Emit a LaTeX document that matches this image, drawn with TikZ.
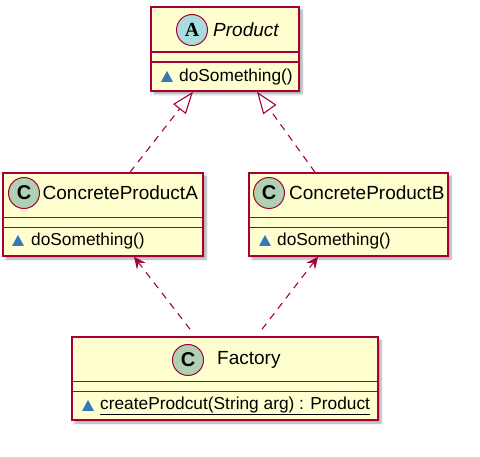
\documentclass[tikz,border=0pt]{standalone}
\usepackage{fontspec}
\setmainfont{Liberation Sans}
\newfontfamily\serifb{Liberation Serif}
\usetikzlibrary{arrows.meta,shadows.blur,calc}
\definecolor{umlfill}{HTML}{FEFECE}
\definecolor{umlborder}{HTML}{A80036}
\definecolor{classcirc}{HTML}{ADD1B2}
\definecolor{abscirc}{HTML}{A9DCDF}
\definecolor{pkgblue}{RGB}{56,120,184}
\tikzset{
  classbox/.style={draw=umlborder, fill=umlfill, line width=1.5pt, rectangle,
    inner sep=0pt,
    blur shadow={shadow xshift=3pt, shadow yshift=-3pt, shadow blur steps=6, shadow opacity=35}},
  sepline/.style={draw=umlborder, line width=1.5pt},
  circ/.style={circle, draw=umlborder, line width=1pt, minimum size=31pt, inner sep=0pt},
  ttl/.style={font=\fontsize{19}{20}\selectfont, anchor=west, inner sep=0pt},
  mem/.style={font=\fontsize{17.3}{19}\selectfont, anchor=west, inner sep=0pt},
  inh/.style={draw=umlborder, line width=1.1pt, dash pattern=on 7pt off 6pt,
    -{Triangle[open, length=22pt, width=16pt, line width=1.1pt]}},
  dep/.style={draw=umlborder, line width=1.1pt, dash pattern=on 7pt off 6pt,
    -{Stealth[length=12pt, width=11pt, inset=4.5pt]}},
}
\newcommand{\pkgtri}[2]{\fill[pkgblue] (#1-6,#2+5) -- (#1+6,#2+5) -- (#1,#2-6) -- cycle;}
\begin{document}
\begin{tikzpicture}[x=1pt,y=-1pt]
\useasboundingbox (0,0) rectangle (480,457);

% Product
\node[classbox, minimum width=148pt, minimum height=84pt] (P) at (225,49) {};
\draw[sepline] (151,52) -- (299,52);
\draw[sepline] (151,62) -- (299,62);
\node[circ, fill=abscirc] (Pc) at (192,30) {\serifb\bfseries\fontsize{20}{20}\selectfont A};
\node[ttl] (Pt) at (213,30) {\itshape Product};
\pkgtri{167}{77}
\node[mem] (Pm) at (179,77) {doSomething()};

% ConcreteProductA
\node[classbox, minimum width=200pt, minimum height=83pt] (A) at (103,214.5) {};
\draw[sepline] (3,217.5) -- (203,217.5);
\draw[sepline] (3,227.5) -- (203,227.5);
\node[circ, fill=classcirc] (Ac) at (24,193) {\bfseries\fontsize{20}{20}\selectfont C};
\node[ttl] (At) at (42.5,193) {ConcreteProductA};
\pkgtri{18}{241}
\node[mem] (Am) at (31,241) {doSomething()};

% ConcreteProductB
\node[classbox, minimum width=199pt, minimum height=83pt] (B) at (348.5,214.5) {};
\draw[sepline] (249,217.5) -- (448,217.5);
\draw[sepline] (249,227.5) -- (448,227.5);
\node[circ, fill=classcirc] (Bc) at (269,193) {\bfseries\fontsize{20}{20}\selectfont C};
\node[ttl] (Bt) at (289,193) {ConcreteProductB};
\pkgtri{265}{241}
\node[mem] (Bm) at (277,241) {doSomething()};

% Factory
\node[classbox, minimum width=306pt, minimum height=83pt] (F) at (225,378.5) {};
\draw[sepline] (72,381.5) -- (378,381.5);
\draw[sepline] (72,391.5) -- (378,391.5);
\node[circ, fill=classcirc] (Fc) at (188,360) {\bfseries\fontsize{20}{20}\selectfont C};
\node[ttl] (Ft) at (217,360) {Factory};
\pkgtri{88}{406}
\node[mem] (Fm) at (100,406) {\underline{createProdcut(String arg) : Product}};

% connectors
\draw[inh] ([xshift=27pt]A.north) -- ([xshift=-32pt]P.south);
\draw[inh] ([xshift=-33.5pt]B.north) -- ([xshift=32pt]P.south);
\draw[dep] ([xshift=-35pt,yshift=7pt]F.north) -- ([xshift=31pt]A.south);
\draw[dep] ([xshift=37pt,yshift=7pt]F.north) -- ([xshift=-30.5pt]B.south);
\end{tikzpicture}
\end{document}
